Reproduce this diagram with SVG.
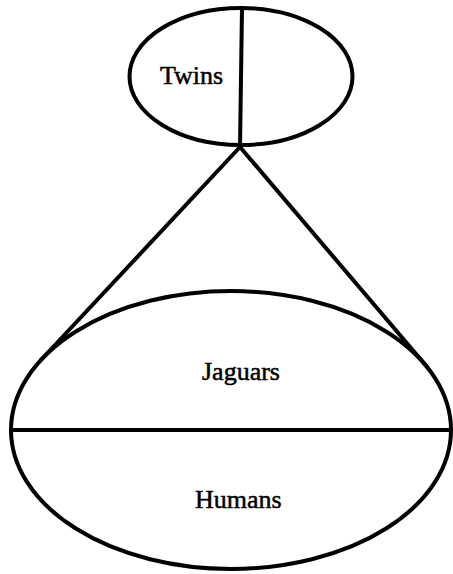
<svg xmlns="http://www.w3.org/2000/svg" width="453" height="574" viewBox="0 0 453 574">
  <style>
    .shape { fill: none; stroke: #000; stroke-width: 4; }
    .conn { fill: none; stroke: #000; stroke-width: 4; stroke-linecap: round; }
    .lbl { font-family: "Liberation Serif", "Times New Roman", serif; font-size: 26px; fill: #000; stroke: #000; stroke-width: 0.5; }
  </style>
  <rect x="0" y="0" width="453" height="574" fill="#fff"/>
  <g id="twins">
    <ellipse class="shape" cx="241" cy="76.5" rx="111.5" ry="68.5"/>
    <line class="conn" x1="242" y1="8" x2="240" y2="147"/>
    <text class="lbl" x="160" y="84">Twins</text>
  </g>
  <g id="connectors">
    <line class="conn" x1="240" y1="147" x2="41" y2="360"/>
    <line class="conn" x1="240" y1="147" x2="428" y2="368"/>
  </g>
  <g id="jaguars-humans">
    <ellipse class="shape" cx="231" cy="430" rx="220" ry="139"/>
    <line class="conn" x1="11" y1="430" x2="451" y2="430"/>
    <text class="lbl" x="202" y="380">Jaguars</text>
    <text class="lbl" x="195" y="508">Humans</text>
  </g>
</svg>
